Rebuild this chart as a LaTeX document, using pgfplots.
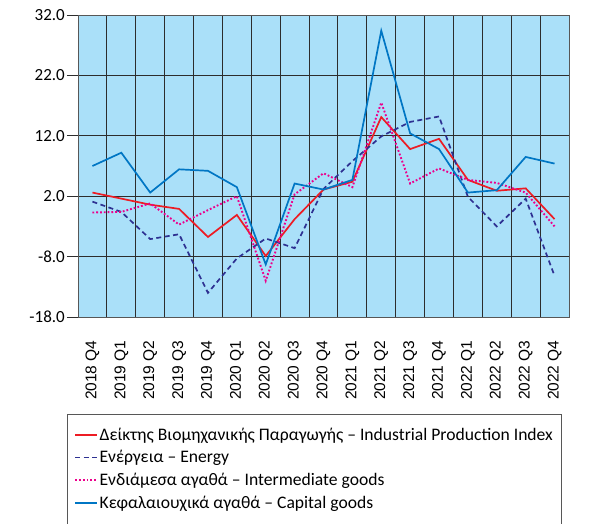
\documentclass[border=0pt]{standalone}
\usepackage{fontspec}
\setmainfont{Carlito}
\newfontfamily\arialfont{Liberation Sans}
\usepackage{pgfplots}
\pgfplotsset{compat=1.18}
\definecolor{bgblue}{RGB}{170,224,249}
\definecolor{ipired}{RGB}{237,28,36}
\definecolor{energyblue}{RGB}{46,49,146}
\definecolor{intmag}{RGB}{236,0,140}
\definecolor{capblue}{RGB}{0,118,196}
\definecolor{gridc}{RGB}{45,45,45}
\tikzset{
  ipistyle/.style={ipired, line width=1.7bp},
  enstyle/.style={energyblue, line width=1.7bp, dash pattern=on 5bp off 3.5bp},
  intstyle/.style={intmag, line width=1.9bp, dash pattern=on 1.8bp off 2bp},
  capstyle/.style={capblue, line width=1.7bp},
}
\begin{document}
\begin{tikzpicture}
\path (0,0) rectangle (596bp,521bp);
\begin{axis}[
  at={(78bp,204bp)}, anchor=south west,
  scale only axis, width=491bp, height=302bp,
  font=\fontsize{17bp}{20bp}\selectfont,
  xmin=-0.5, xmax=16.5, ymin=-18, ymax=32,
  axis background/.style={fill=bgblue},
  axis line style={draw=gridc!80, line width=0.9bp},
  xtick={0,...,16},
  xticklabels={2018 Q4,2019 Q1,2019 Q2,2019 Q3,2019 Q4,2020 Q1,2020 Q2,2020 Q3,2020 Q4,2021 Q1,2021 Q2,2021 Q3,2021 Q4,2022 Q1,2022 Q2,2022 Q3,2022 Q4},
  xticklabel style={font=\arialfont\fontsize{15.5bp}{18bp}\selectfont, rotate=90, anchor=east, xshift=-9bp},
  minor xtick={-0.5,0.5,...,16.5},
  xmajorgrids=false, xminorgrids=true, ymajorgrids=true,
  x tick style={draw=none},
  minor x tick style={draw=none},
  ytick={-18,-8,2,12,22,32},
  yticklabels={-18.0,-8.0,2.0,12.0,22.0,32.0},
  ytick pos=left, tick align=outside, major tick length=11bp,
  y tick style={draw=gridc, line width=0.9bp},
  yticklabel style={inner sep=2bp},
  grid style={draw=gridc, line width=0.9bp},
  minor grid style={draw=gridc, line width=0.9bp},
  legend style={at={(axis description cs:-0.0224,-0.3212)}, anchor=north west,
    draw=gridc!80, inner xsep=7bp, inner ysep=12bp,
    font=\fontsize{17.6bp}{20bp}\selectfont, row sep=6bp,
    nodes={inner sep=1.5bp}},
  legend cell align=left,
]
\addplot[ipistyle, legend image code/.code={\draw[ipistyle] (0bp,0bp) -- (22bp,0bp);}] coordinates {
(0,2.6) (1,1.6) (2,0.6) (3,-0.1) (4,-4.75) (5,-1.1) (6,-7.9) (7,-1.8) (8,3.1) (9,4.4) (10,15.1) (11,9.8) (12,11.5) (13,4.7) (14,2.9) (15,3.3) (16,-1.8)};
\addlegendentry{Δείκτης Βιομηχανικής Παραγωγής – Industrial Production Index}
\addplot[enstyle, legend image code/.code={\draw[enstyle] (0bp,0bp) -- (22bp,0bp);}] coordinates {
(0,1.1) (1,-0.6) (2,-5.1) (3,-4.3) (4,-14.0) (5,-8.3) (6,-5.0) (7,-6.6) (8,3.2) (9,7.8) (10,11.9) (11,14.3) (12,15.2) (13,1.9) (14,-3.0) (15,1.6) (16,-11.2)};
\addlegendentry{Ενέργεια – Energy}
\addplot[intstyle, legend image code/.code={\draw[intstyle] (0bp,0bp) -- (22bp,0bp);}] coordinates {
(0,-0.7) (1,-0.6) (2,0.8) (3,-2.7) (4,-0.3) (5,2.0) (6,-12.0) (7,2.3) (8,5.8) (9,3.5) (10,17.5) (11,4.1) (12,6.6) (13,4.7) (14,4.2) (15,2.6) (16,-3.0)};
\addlegendentry{Ενδιάμεσα αγαθά – Intermediate goods}
\addplot[capstyle, legend image code/.code={\draw[capstyle] (0bp,0bp) -- (22bp,0bp);}] coordinates {
(0,7.0) (1,9.2) (2,2.6) (3,6.45) (4,6.2) (5,3.5) (6,-9.3) (7,4.1) (8,3.1) (9,4.7) (10,29.4) (11,12.4) (12,9.8) (13,2.6) (14,3.0) (15,8.5) (16,7.4)};
\addlegendentry{Κεφαλαιουχικά αγαθά – Capital goods}
\end{axis}
\end{tikzpicture}
\end{document}
